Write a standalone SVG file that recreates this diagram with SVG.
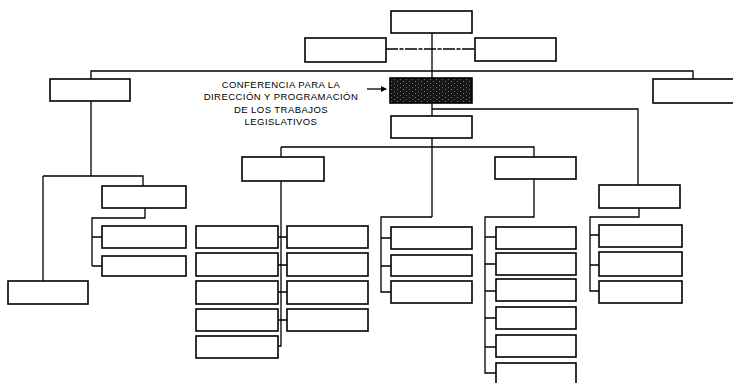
<svg xmlns="http://www.w3.org/2000/svg" width="733" height="383" viewBox="0 0 733 383">
<defs>
<style>
.b{fill:#fff;stroke:#000;stroke-width:1.6}
.d{stroke:#000;stroke-width:1.6}
.c{fill:none;stroke:#000;stroke-width:1.3}
.dash{fill:none;stroke:#000;stroke-width:1.3;stroke-dasharray:12 1.5 4 1.5}
.t{font-family:"Liberation Sans",Arial,sans-serif;font-size:9.5px;letter-spacing:0.45px;fill:#000;text-anchor:middle}
</style>
<pattern id="spk" width="6" height="4" patternUnits="userSpaceOnUse">
<rect width="6" height="4" fill="#161616"/>
<rect x="1" y="1" width="1" height="1" fill="#777"/>
<rect x="4" y="3" width="1" height="1" fill="#666"/>
</pattern>
<marker id="ah" markerWidth="6" markerHeight="6" refX="5" refY="3" orient="auto" markerUnits="userSpaceOnUse">
<path d="M0,0 L6,3 L0,6 Z" fill="#000"/>
</marker>
</defs>
<rect width="733" height="383" fill="#fff"/>
<g id="connectors">
<path class="c" d="M432,33 V78 M432,103 V116 M432,138 V217"/>
<path class="dash" d="M386,49 H475"/>
<path class="c" d="M91,79 V71 H693 V79"/>
<path class="c" d="M432,109 H638 V185"/>
<path class="c" d="M91,101 V176 M43,176 H143 V186 M43,176 V281"/>
<path class="c" d="M145,208 V218 H92 V266 M92,237 H102 M92,266 H102"/>
<path class="c" d="M281,147 H534 V157 M281,147 V157"/>
<path class="c" d="M281,181 V346 H278 M278,237 H287 M278,265 H287 M278,292 H287 M278,320 H287"/>
<path class="c" d="M432,217 H381 V292 H391 M381,238 H391 M381,266 H391"/>
<path class="c" d="M534,179 V217 H485 V373 H496 M485,237 H496 M485,264 H496 M485,291 H496 M485,318 H496 M485,347 H496"/>
<path class="c" d="M639,208 V217 H590 V291 H599 M590,235 H599 M590,265 H599"/>
<path class="c" d="M367,89 H386" marker-end="url(#ah)"/>
</g>
<g id="n-top"><rect class="b" x="391" y="11" width="81" height="22"/></g>
<g id="n-l2a"><rect class="b" x="305" y="38" width="81" height="24"/></g>
<g id="n-l2b"><rect class="b" x="475" y="38" width="81" height="23"/></g>
<g id="n-left"><rect class="b" x="50" y="79" width="80" height="22"/></g>
<g id="n-right"><rect class="b" x="653" y="79" width="82" height="24"/></g>
<g id="n-conf"><rect class="d" x="390" y="78" width="82" height="25" fill="url(#spk)"/></g>
<g id="label">
<text class="t" x="281" y="88">CONFERENCIA PARA  LA</text>
<text class="t" x="281" y="100">DIRECCIÓN Y PROGRAMACIÓN</text>
<text class="t" x="281" y="113">DE LOS TRABAJOS</text>
<text class="t" x="281" y="125">LEGISLATIVOS</text>
</g>
<g id="n-mid"><rect class="b" x="391" y="116" width="81" height="22"/></g>
<g id="n-a"><rect class="b" x="102" y="186" width="84" height="22"/></g>
<g id="n-a1"><rect class="b" x="102" y="226" width="84" height="22"/></g>
<g id="n-a2"><rect class="b" x="102" y="256" width="84" height="20"/></g>
<g id="n-a0"><rect class="b" x="8" y="281" width="80" height="23"/></g>
<g id="n-b"><rect class="b" x="242" y="157" width="82" height="24"/></g>
<g id="n-b1"><rect class="b" x="196" y="226" width="82" height="22"/></g>
<g id="n-b2"><rect class="b" x="196" y="253" width="82" height="23"/></g>
<g id="n-b3"><rect class="b" x="196" y="281" width="82" height="23"/></g>
<g id="n-b4"><rect class="b" x="196" y="309" width="82" height="22"/></g>
<g id="n-b5"><rect class="b" x="196" y="336" width="82" height="22"/></g>
<g id="n-b6"><rect class="b" x="287" y="226" width="81" height="22"/></g>
<g id="n-b7"><rect class="b" x="287" y="253" width="81" height="23"/></g>
<g id="n-b8"><rect class="b" x="287" y="281" width="81" height="23"/></g>
<g id="n-b9"><rect class="b" x="287" y="309" width="81" height="22"/></g>
<g id="n-c1"><rect class="b" x="391" y="227" width="81" height="22"/></g>
<g id="n-c2"><rect class="b" x="391" y="255" width="81" height="21"/></g>
<g id="n-c3"><rect class="b" x="391" y="281" width="81" height="22"/></g>
<g id="n-d"><rect class="b" x="495" y="157" width="81" height="22"/></g>
<g id="n-d1"><rect class="b" x="496" y="227" width="80" height="22"/></g>
<g id="n-d2"><rect class="b" x="496" y="253" width="80" height="22"/></g>
<g id="n-d3"><rect class="b" x="496" y="279" width="80" height="22"/></g>
<g id="n-d4"><rect class="b" x="496" y="307" width="80" height="22"/></g>
<g id="n-d5"><rect class="b" x="496" y="335" width="80" height="22"/></g>
<g id="n-d6"><rect class="b" x="496" y="363" width="80" height="24"/></g>
<g id="n-e"><rect class="b" x="599" y="185" width="81" height="23"/></g>
<g id="n-e1"><rect class="b" x="599" y="225" width="83" height="22"/></g>
<g id="n-e2"><rect class="b" x="599" y="252" width="83" height="24"/></g>
<g id="n-e3"><rect class="b" x="599" y="281" width="83" height="22"/></g>
</svg>
